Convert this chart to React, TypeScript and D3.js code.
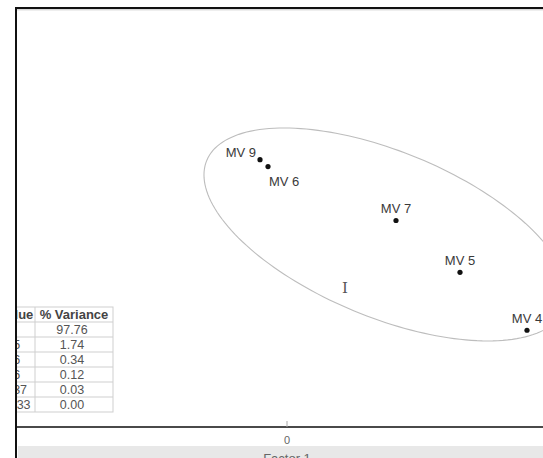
import React from "react";
import * as d3 from "d3";

// factor scores (Factor 1 / Factor 2)
const labels = ["MV 9", "MV 6", "MV 7", "MV 5", "MV 4"];
const factor1 = [-0.27, -0.19, 1.09, 1.73, 2.4];
const factor2 = [0.81, 0.74, 0.2, -0.32, -0.9];
const labelPos = ["left", "below", "above", "above", "above"];

// cluster ellipse (data units)
const ellipseCenter = [0.99, 0.06];
const ellipseRadii = [1.94, 0.83];
const ellipseAngle = -22.5;

// eigen table
const eigenvalues = ["8.798", "0.1565", "0.0306", "0.0106", "0.002737", "0.0001233"];
const pctVariance = ["97.76", "1.74", "0.34", "0.12", "0.03", "0.00"];

const xTicks = [0];

const W = 543;
const H = 458;
const font = "'Liberation Sans', Arial, sans-serif";

export default function App() {
  const left = 16;
  const top = 8;
  const axisY = 427;

  const x = d3.scaleLinear().domain([-2.71, 2.56]).range([left, W]);
  const y = d3.scaleLinear().domain([-1.87, 2.33]).range([axisY, top]);

  const th = (ellipseAngle * Math.PI) / 180;
  const ePts: [number, number][] = d3.range(0, 2 * Math.PI, Math.PI / 90).map((t) => {
    const ex = ellipseRadii[0] * Math.cos(t);
    const ey = ellipseRadii[1] * Math.sin(t);
    return [
      ellipseCenter[0] + ex * Math.cos(th) - ey * Math.sin(th),
      ellipseCenter[1] + ex * Math.sin(th) + ey * Math.cos(th),
    ];
  });
  const ellipsePath = d3
    .line<[number, number]>()
    .x((d) => x(d[0]))
    .y((d) => y(d[1]))
    .curve(d3.curveLinearClosed)(ePts);

  // table geometry (first column runs off the left edge)
  const tX0 = -33;
  const tX1 = 35;
  const tX2 = 113;
  const tY0 = 307;
  const rowH = 15;

  return (
    <svg
      width={W}
      height={H}
      style={{ position: "absolute", left: 0, top: 0, background: "#fff" }}
      fontFamily={font}
    >
      <defs>
        <clipPath id="plot">
          <rect x={left + 1} y={top + 2} width={W - left} height={axisY - top - 2} />
        </clipPath>
        <clipPath id="panel">
          <rect x={left + 1} y={0} width={W - left} height={H} />
        </clipPath>
      </defs>

      <g clipPath="url(#panel)">
        {/* x axis title band */}
        <rect x={left + 2} y={446} width={W - left} height={14} fill="#e8e8e8" />
        <text x={x(0)} y={463} textAnchor="middle" fontSize={13} fill="#666">
          Factor 1
        </text>

        <g clipPath="url(#plot)">
          <path d={ellipsePath || ""} fill="none" stroke="#bdbdbd" strokeWidth={1.1} />

          {labels.map((l, i) => {
            const px = x(factor1[i]);
            const py = y(factor2[i]);
            let tx = px;
            let ty = py - 7;
            let anchor: "start" | "middle" | "end" = "middle";
            if (labelPos[i] === "left") {
              tx = px - 4;
              ty = py - 3;
              anchor = "end";
            } else if (labelPos[i] === "below") {
              tx = px + 1;
              ty = py + 19;
              anchor = "start";
            }
            return (
              <g key={l}>
                <circle cx={px} cy={py} r={2.6} fill="#111" />
                <text x={tx} y={ty} textAnchor={anchor} fontSize={13} fill="#3a3a3a">
                  {l}
                </text>
              </g>
            );
          })}

          <text x={345} y={293} textAnchor="middle" fontSize={15} fill="#555" fontFamily="'DejaVu Serif', serif">
            I
          </text>
        </g>

        {/* eigen table */}
        <g>
          <rect x={tX0} y={tY0} width={tX2 - tX0} height={rowH * 7} fill="#fff" stroke="#cfcfcf" />
          {d3.range(1, 7).map((r) => (
            <line key={r} x1={tX0} x2={tX2} y1={tY0 + r * rowH} y2={tY0 + r * rowH} stroke="#cfcfcf" />
          ))}
          <line x1={tX1} x2={tX1} y1={tY0} y2={tY0 + rowH * 7} stroke="#cfcfcf" />
          <text x={(tX0 + tX1) / 2 - 2} y={tY0 + 12} textAnchor="middle" fontSize={13} fontWeight="bold" fill="#444">
            Eigenvalue
          </text>
          <text x={(tX1 + tX2) / 2} y={tY0 + 12} textAnchor="middle" fontSize={13} fontWeight="bold" fill="#444">
            % Variance
          </text>
          {pctVariance.map((p, i) => (
            <g key={i}>
              <text x={(tX0 + tX1) / 2} y={tY0 + (i + 1) * rowH + 12} textAnchor="middle" fontSize={12.5} fill="#555">
                {eigenvalues[i]}
              </text>
              <text x={(tX1 + tX2) / 2 - 2} y={tY0 + (i + 1) * rowH + 12} textAnchor="middle" fontSize={12.5} fill="#555">
                {p}
              </text>
            </g>
          ))}
        </g>

        {/* x axis */}
        <line x1={left} x2={W} y1={axisY} y2={axisY} stroke="#4a4a4a" strokeWidth={2.2} />
        {xTicks.map((t) => (
          <g key={t}>
            <line x1={x(t)} x2={x(t)} y1={axisY - 6} y2={axisY} stroke="#aaa" />
            <text x={x(t)} y={444} textAnchor="middle" fontSize={11} fill="#666">
              {t}
            </text>
          </g>
        ))}
      </g>

      {/* frame */}
      <line x1={left} x2={W} y1={top} y2={top} stroke="#111" strokeWidth={2} />
      <line x1={left} x2={W} y1={top + 1.8} y2={top + 1.8} stroke="#bbb" strokeWidth={0.8} />
      <line x1={left} x2={left} y1={top - 1} y2={H} stroke="#111" strokeWidth={2} />
    </svg>
  );
}
